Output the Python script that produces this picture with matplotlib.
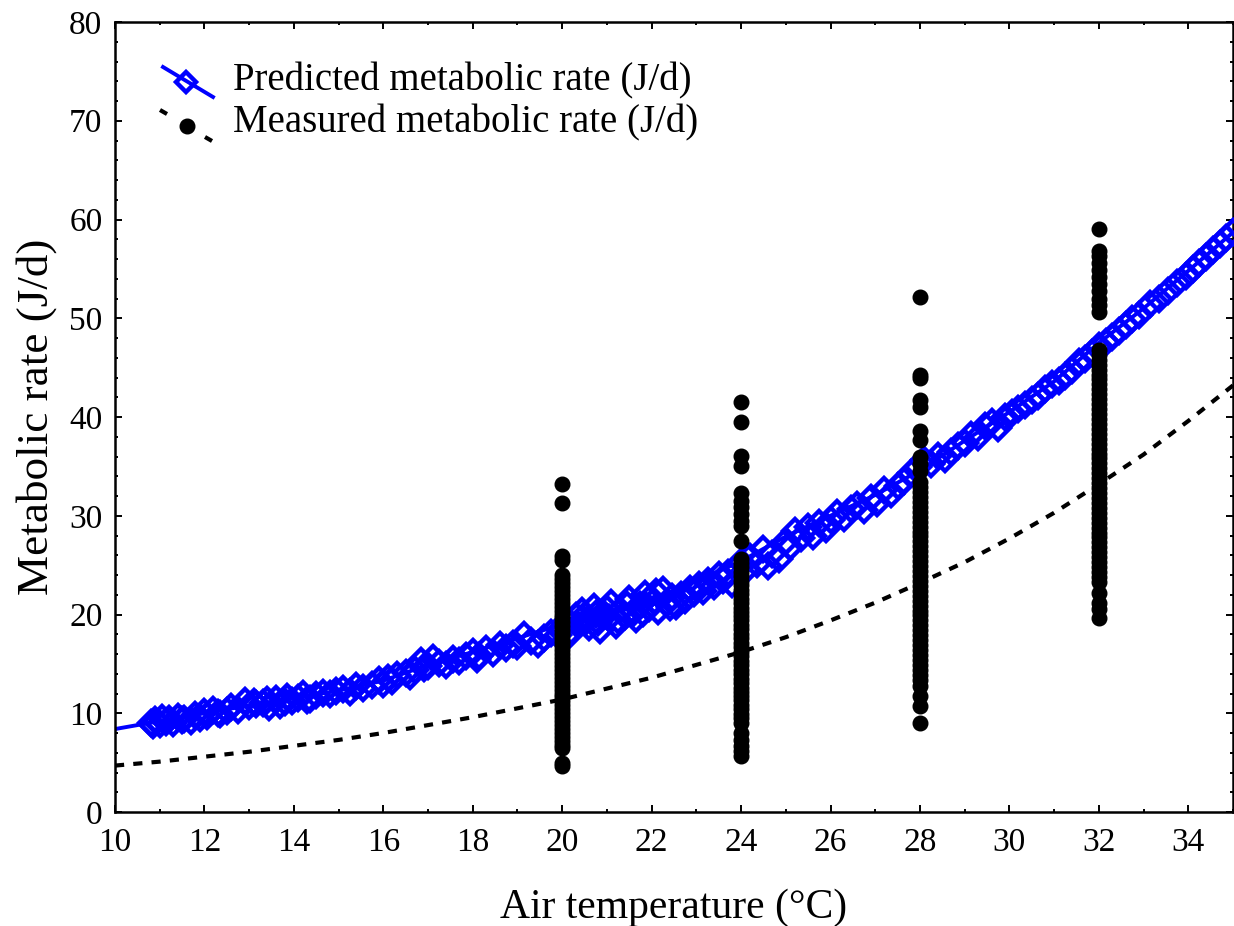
import matplotlib
matplotlib.use("Agg")
import matplotlib.pyplot as plt
from matplotlib.ticker import MultipleLocator

plt.rcParams['font.family'] = ['Liberation Serif', 'DejaVu Serif']

# Predicted metabolic rate: fitted curve (solid line)
curve_temp = [10, 11, 12, 13, 14, 15, 16, 17, 18, 19, 20, 21, 22, 23, 24,
              25, 26, 27, 28, 29, 30, 31, 32, 33, 34, 35]
curve_rate = [8.4, 9.2, 10.0, 10.8, 11.5, 12.3, 13.3, 14.9, 16.2, 17.6, 19.0,
              20.3, 21.5, 23.4, 25.4, 27.9, 30.0, 32.1, 34.6, 37.6, 40.5,
              43.6, 47.5, 51.0, 54.8, 58.7]

# Predicted metabolic rate for individual records (open diamonds)
pred_temp = [10.8, 10.85, 10.9, 11.0, 11.05, 11.15, 11.2, 11.3, 11.4, 11.5,
             11.55, 11.7, 11.8, 11.9, 12.0, 12.05, 12.2, 12.3, 12.35, 12.5,
             12.6, 12.75, 12.9, 13.0, 13.1, 13.15, 13.3, 13.4, 13.45, 13.6,
             13.7, 13.8, 13.85, 13.95, 14.1, 14.2, 14.3, 14.35, 14.5, 14.65,
             14.8, 14.95, 15.1, 15.25, 15.4, 15.55, 15.75, 15.9, 16.0, 16.1,
             16.2, 16.3, 16.5, 16.6, 16.7, 16.85, 16.9, 17.0, 17.1, 17.25,
             17.4, 17.55, 17.7, 17.85, 18.0, 18.1, 18.15, 18.3, 18.45, 18.6,
             18.75, 18.9, 19.0, 19.15, 19.3, 19.45, 19.6, 19.75, 19.9, 20.0,
             20.1, 20.15, 20.2, 20.3, 20.35, 20.45, 20.5, 20.55, 20.6, 20.7,
             20.75, 20.8, 20.85, 20.95, 21.0, 21.05, 21.1, 21.2, 21.25, 21.3,
             21.4, 21.45, 21.5, 21.6, 21.65, 21.75, 21.8, 21.85, 21.95, 22.05,
             22.1, 22.15, 22.25, 22.35, 22.4, 22.45, 22.55, 22.65, 22.75, 22.85,
             22.95, 23.05, 23.15, 23.25, 23.4, 23.5, 23.6, 23.7, 23.8, 23.9,
             24.0, 24.1, 24.2, 24.35, 24.5, 24.6, 24.7, 24.85, 25.0, 25.1,
             25.2, 25.35, 25.5, 25.6, 25.75, 25.9, 26.0, 26.15, 26.3, 26.45,
             26.6, 26.75, 26.9, 27.05, 27.2, 27.35, 27.5, 27.65, 27.8, 27.95,
             28.1, 28.25, 28.4, 28.55, 28.7, 28.85, 29.0, 29.15, 29.3, 29.45,
             29.6, 29.75, 29.9, 30.05, 30.2, 30.35, 30.5, 30.65, 30.8, 30.95,
             31.1, 31.25, 31.4, 31.55, 31.7, 31.85, 32.0, 32.15, 32.3, 32.45,
             32.6, 32.75, 32.9, 33.15, 33.35, 33.55, 33.75, 33.95, 34.1, 34.25,
             34.4, 34.55, 34.7, 34.85, 35.0]
pred_rate = [9.0, 8.8, 9.3, 8.9, 9.5, 9.1, 9.4, 9.0, 9.6, 9.3,
             9.4, 9.2, 9.8, 9.5, 10.1, 9.7, 10.3, 10.0, 9.9, 10.2,
             10.6, 10.3, 11.2, 10.7, 11.1, 10.9, 11.0, 11.3, 10.6, 11.4,
             10.8, 11.1, 11.6, 11.2, 11.5, 11.9, 11.3, 11.4, 11.8, 12.1,
             11.9, 12.3, 12.5, 12.2, 12.8, 12.6, 12.9, 13.4, 13.0, 13.6,
             13.3, 13.9, 14.1, 13.8, 14.4, 15.3, 14.6, 14.8, 15.6, 15.1,
             14.9, 15.5, 15.3, 15.8, 16.2, 15.5, 15.8, 16.5, 16.1, 16.9,
             16.6, 17.0, 16.8, 17.9, 17.3, 17.0, 17.6, 18.1, 17.9, 18.6,
             19.3, 17.9, 18.3, 19.8, 18.9, 20.4, 19.9, 19.4, 18.7, 20.8,
             20.1, 19.2, 18.4, 20.0, 20.6, 19.6, 21.2, 18.9, 19.4, 20.5,
             19.8, 21.0, 21.6, 20.3, 19.5, 21.0, 20.2, 22.1, 20.7, 21.4,
             22.3, 20.4, 22.5, 21.2, 20.8, 21.8, 20.9, 22.0, 21.5, 22.6,
             22.2, 23.0, 22.4, 23.4, 22.9, 24.0, 23.5, 24.2, 23.1, 24.8,
             25.3, 24.5, 25.8, 25.1, 26.6, 24.9, 26.1, 25.6, 27.4, 26.8,
             28.5, 27.7, 28.9, 27.9, 29.3, 28.7, 29.6, 30.3, 29.8, 30.7,
             31.1, 30.6, 31.8, 31.3, 32.6, 32.2, 33.0, 33.5, 34.3, 34.9,
             35.6, 35.2, 36.1, 35.7, 36.5, 37.1, 37.4, 38.2, 38.0, 39.1,
             39.5, 38.9, 40.0, 40.4, 40.8, 41.2, 41.7, 42.1, 42.8, 43.3,
             43.6, 44.2, 44.8, 45.6, 45.9, 46.5, 47.2, 47.6, 48.1, 48.7,
             49.3, 49.9, 50.3, 51.4, 51.9, 52.8, 53.6, 54.3, 55.0, 55.6,
             56.2, 56.9, 57.5, 58.1, 58.7]

# Measured metabolic rate at the four test temperatures
meas_20 = [33.2, 31.3, 25.9, 25.5, 24.0, 23.6, 23.2, 22.8, 22.4, 22.0, 21.6,
           21.2, 20.8, 20.4, 20.0, 19.6, 19.2, 18.8, 18.4, 18.0, 17.6, 17.2,
           16.8, 16.4, 16.0, 15.6, 15.2, 14.8, 14.4, 14.0, 13.6, 13.2, 12.8,
           12.4, 12.0, 11.6, 11.2, 10.8, 10.4, 10.0, 9.6, 9.2, 8.8, 8.4, 8.0,
           7.6, 7.2, 6.8, 6.5, 5.0, 4.7]
meas_24 = [41.5, 39.5, 36.1, 35.0, 32.3, 31.5, 30.9, 30.2, 29.5, 29.0, 27.4,
           25.6, 25.2, 24.8, 24.3, 23.9, 23.4, 23.0, 22.5, 22.1, 21.6, 21.2,
           20.7, 20.3, 19.8, 19.4, 18.9, 18.5, 18.0, 17.6, 17.1, 16.7, 16.2,
           15.8, 15.3, 14.9, 14.4, 14.0, 13.5, 13.1, 12.6, 12.2, 11.7, 11.3,
           10.8, 10.4, 9.9, 9.5, 9.0, 8.0, 7.3, 6.7, 6.2, 5.7]
meas_28 = [52.2, 44.3, 44.0, 41.7, 41.0, 38.6, 37.7, 36.0, 35.2, 34.5, 33.4,
           32.9, 32.4, 31.9, 31.4, 30.9, 30.4, 29.9, 29.4, 28.9, 28.4, 27.9,
           27.4, 26.9, 26.4, 25.9, 25.4, 24.9, 24.4, 23.9, 23.4, 22.9, 22.4,
           21.9, 21.4, 20.9, 20.4, 19.9, 19.4, 18.9, 18.4, 17.9, 17.4, 16.9,
           16.4, 15.9, 15.4, 14.9, 14.4, 13.9, 13.4, 12.8, 11.7, 10.7, 9.0]
meas_32 = [59.0, 56.8, 56.3, 55.6, 54.9, 54.2, 53.5, 52.8, 52.0, 51.3, 50.6,
           46.8, 46.3, 45.8, 45.3, 44.8, 44.3, 43.8, 43.3, 42.8, 42.3, 41.8,
           41.3, 40.8, 40.3, 39.8, 39.3, 38.8, 38.3, 37.8, 37.3, 36.8, 36.3,
           35.8, 35.3, 34.8, 34.3, 33.8, 33.3, 32.8, 32.3, 31.8, 31.3, 30.8,
           30.3, 29.8, 29.3, 28.8, 28.3, 27.8, 27.3, 26.8, 26.3, 25.8, 25.3,
           24.8, 24.3, 23.8, 23.3, 22.2, 21.2, 20.6, 19.6]

# Curve fitted to the measured values (dashed line)
meas_fit_temp = [10, 11, 12, 13, 14, 15, 16, 17, 18, 19, 20, 21, 22, 23, 24,
                 25, 26, 27, 28, 29, 30, 31, 32, 33, 34, 35]
meas_fit_rate = [4.7, 5.1, 5.6, 6.1, 6.7, 7.3, 8.0, 8.8, 9.6, 10.5, 11.4,
                 12.5, 13.6, 14.9, 16.2, 17.7, 19.4, 21.2, 23.2, 25.3, 27.7,
                 30.3, 33.2, 36.2, 39.6, 43.2]

meas_temp = ([20] * len(meas_20) + [24] * len(meas_24)
             + [28] * len(meas_28) + [32] * len(meas_32))
meas_rate = meas_20 + meas_24 + meas_28 + meas_32

W, H = 1234, 926
fig = plt.figure(figsize=(W / 100, H / 100), dpi=100)
L, R, B, T = 115, 1233, 812, 22
ax = fig.add_axes([L / W, (H - B) / H, (R - L) / W, (B - T) / H])

blue = '#0000ff'
d_ms, d_mew = 12.5, 3.2
dot_ms = 10.5
ax.plot(curve_temp, curve_rate, color=blue, lw=2.8, zorder=2)
ax.plot(pred_temp, pred_rate, ls='none', marker='D', ms=d_ms,
        mfc='none', mec=blue, mew=d_mew, zorder=3)
ax.plot(meas_fit_temp, meas_fit_rate, color='black', lw=3.0,
        dashes=(2.2, 2.2), zorder=2)
ax.plot(meas_temp, meas_rate, ls='none', marker='o', ms=dot_ms,
        color='black', zorder=4)

ax.set_xlim(10, 35)
ax.set_ylim(0, 80)
ax.xaxis.set_major_locator(MultipleLocator(2))
ax.xaxis.set_minor_locator(MultipleLocator(1))
ax.yaxis.set_major_locator(MultipleLocator(10))
ax.yaxis.set_minor_locator(MultipleLocator(2))
ax.tick_params(which='both', direction='in', top=True, right=True,
               labelsize=24, width=1.4)
ax.tick_params(which='major', length=5)
ax.tick_params(which='minor', length=2.5)
ax.tick_params(axis='x', pad=11)
ax.tick_params(axis='y', pad=9)
for s in ax.spines.values():
    s.set_linewidth(1.8)

ax.set_xlabel('Air temperature (°C)', fontsize=30, labelpad=22)
ax.set_ylabel('Metabolic rate (J/d)', fontsize=32.5, labelpad=9)


# Legend drawn in axes coordinates
def px(x, y):
    return (x - L) / (R - L), (B - y) / (B - T)


x0, y0 = px(163, 67)
x1, y1 = px(213, 97)
ax.plot([x0, x1], [y0, y1], color=blue, lw=2.8, transform=ax.transAxes,
        clip_on=False)
dx, dy = px(186, 82)
ax.plot([dx], [dy], marker='D', ms=d_ms * 0.85, mfc='none', mec=blue,
        mew=d_mew, transform=ax.transAxes, clip_on=False)
tx, ty = px(233, 81)
ax.text(tx, ty, 'Predicted metabolic rate (J/d)', transform=ax.transAxes,
        fontsize=28, va='center', ha='left')

for (a, b), (c, d) in [((160, 110), (167, 114)), ((205, 137), (212, 141))]:
    p0 = px(a, b)
    p1 = px(c, d)
    ax.plot([p0[0], p1[0]], [p0[1], p1[1]], color='black', lw=3.0,
            transform=ax.transAxes, clip_on=False, solid_capstyle='butt')
mx, my = px(187, 126)
ax.plot([mx], [my], marker='o', ms=dot_ms, color='black',
        transform=ax.transAxes, clip_on=False)
tx, ty = px(233, 123)
ax.text(tx, ty, 'Measured metabolic rate (J/d)', transform=ax.transAxes,
        fontsize=28, va='center', ha='left')

fig.savefig('out.png', dpi=100)
